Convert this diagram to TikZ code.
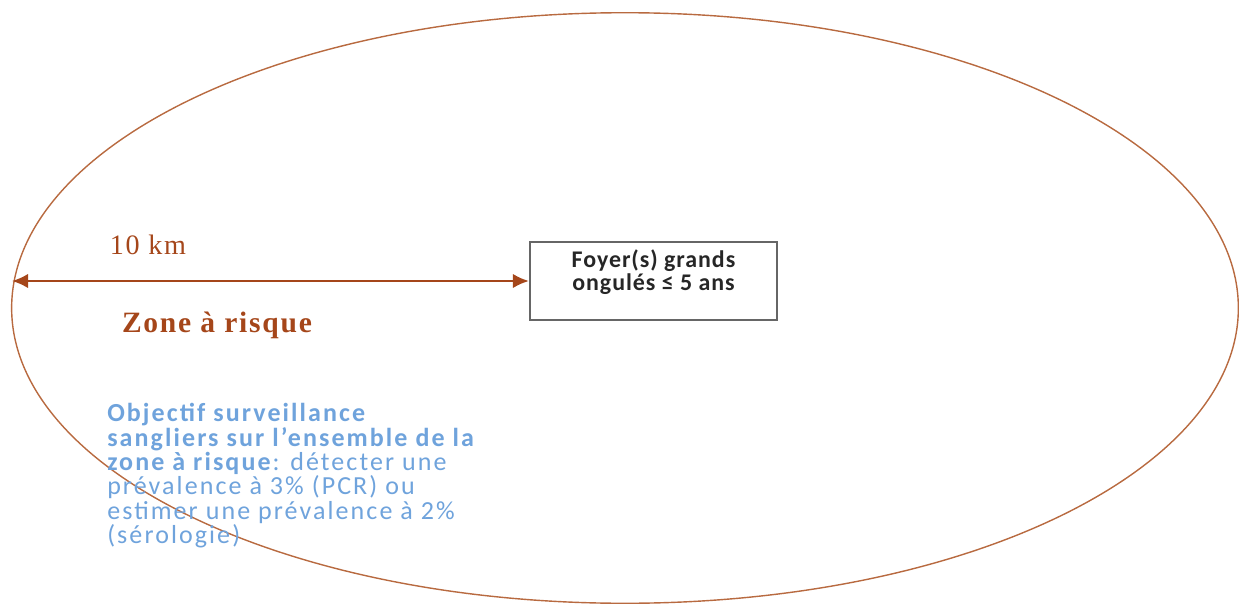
\documentclass[tikz,border=0pt]{standalone}
\usepackage{fontspec}
\setmainfont{Liberation Serif}
\newfontfamily\calib[LetterSpace=8]{Carlito}
\newfontfamily\calibbox[LetterSpace=4]{Carlito}
\newfontfamily\serifsp[LetterSpace=6]{Liberation Serif}
\usetikzlibrary{arrows.meta}
\definecolor{brun}{HTML}{A5461A}
\definecolor{ocre}{HTML}{B86A40}
\definecolor{bleu}{HTML}{6FA3DC}
\begin{document}
\begin{tikzpicture}[>={Latex[length=4mm,width=3.6mm]}, x=0.025cm, y=-0.025cm]
\useasboundingbox (0,0) rectangle (1239,605);
\draw[ocre, line width=1pt] (625,308) ellipse [x radius=15.33cm, y radius=7.38cm];
\node (foyer) at (653.5,281) [draw=black!60, line width=1.4pt, minimum width=6.18cm, minimum height=1.95cm,
  label={[anchor=north, yshift=-3pt, align=center, font=\calibbox\bfseries\fontsize{17}{16}\selectfont, text=black!85]north:Foyer(s) grands\\ongulés ≤ 5 ans}] {};
\coordinate (bord) at (12,281);
\draw[brun, line width=1.5pt, <->] (bord) -- (foyer.west);
\node (dist) at (148,245) [text=brun, font=\serifsp\fontsize{20}{20}\selectfont] {10 km};
\node (zone) at (217,325) [text=brun, font=\serifsp\bfseries\fontsize{21}{20}\selectfont] {Zone à risque};
\node (objectif) at (107,403) [anchor=north west, align=left, inner sep=0pt, text=bleu,
  font=\calib\fontsize{18.5}{17.4}\selectfont] {\textbf{Objectif surveillance}\\
  \textbf{sangliers sur l’ensemble de la}\\
  \textbf{zone à risque}: détecter une\\
  prévalence à 3\% (PCR) ou\\
  estimer une prévalence à 2\%\\
  (sérologie)};
\end{tikzpicture}
\end{document}
